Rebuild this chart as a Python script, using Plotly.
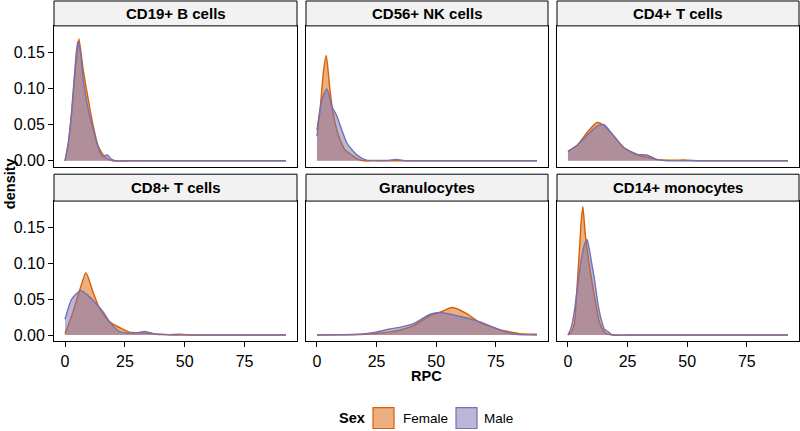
import plotly.graph_objects as go

W, H = 800, 431

panels = ["CD19+ B cells", "CD56+ NK cells", "CD4+ T cells",
          "CD8+ T cells", "Granulocytes", "CD14+ monocytes"]
sexes = ["Female", "Male"]

# ---- density values (x = RPC, y = density) ----
b_f_x = [0, 1.4, 2.8, 4.2, 5.8, 7.6, 9.7, 11.8, 13.9, 16.7, 20, 25, 35, 50, 65, 80, 92.3]
b_f_y = [0, 0.025, 0.067, 0.122, 0.169, 0.126, 0.085, 0.048, 0.02, 0.005, 0.0, 0, 0, 0, 0, 0, 0]
b_m_x = [0, 1.4, 2.8, 4.2, 5.3, 6.5, 7.6, 9.7, 11.8, 13.9, 15.5, 17.6, 19.5, 21, 30, 45, 60, 75, 92.3]
b_m_y = [0, 0.025, 0.07, 0.13, 0.165, 0.15, 0.112, 0.071, 0.043, 0.018, 0.006, 0.008, 0.002, 0, 0, 0, 0, 0, 0]

nk_f_x = [0, 1.4, 2.8, 3.9, 5.3, 6.7, 8.3, 9.7, 11.8, 14.6, 16.7, 19.4, 25, 35, 50, 65, 80, 92.3]
nk_f_y = [0.043, 0.075, 0.126, 0.146, 0.103, 0.067, 0.043, 0.029, 0.015, 0.008, 0.003, 0, 0, 0, 0, 0, 0, 0]
nk_m_x = [0, 2.1, 4.2, 6.3, 8.3, 10.4, 12.5, 15.3, 18, 20.8, 25, 30, 33, 36, 40, 50, 65, 80, 92.3]
nk_m_y = [0.034, 0.085, 0.0995, 0.075, 0.0625, 0.043, 0.025, 0.013, 0.005, 0.001, 0.0005, 0.0005, 0.002, 0.0005, 0, 0, 0, 0, 0]

cd4_f_x = [0, 4, 8.2, 12.2, 15.1, 19.3, 23.5, 29, 33, 37, 42, 50, 55, 65, 80, 92.3]
cd4_f_y = [0.013, 0.022, 0.040, 0.053, 0.049, 0.034, 0.018, 0.008, 0.005, 0.002, 0.001, 0.001, 0, 0, 0, 0]
cd4_m_x = [0, 4, 8.2, 12.2, 15.1, 19.3, 23.5, 29, 33, 37.2, 42, 50, 65, 80, 92.3]
cd4_m_y = [0.013, 0.022, 0.036, 0.048, 0.050, 0.034, 0.018, 0.009, 0.008, 0.002, 0, 0, 0, 0, 0]

cd8_f_x = [0, 2.8, 6.25, 8.75, 11.8, 14.6, 18.75, 24.3, 27, 33, 40, 45, 55, 70, 85, 92.3]
cd8_f_y = [0.002, 0.027, 0.064, 0.087, 0.059, 0.036, 0.018, 0.008, 0.004, 0.003, 0.001, 0, 0, 0, 0, 0]
cd8_m_x = [0, 2.8, 6.5, 9.7, 13.2, 16, 18.75, 22.2, 25.7, 30, 33.3, 38.2, 43, 48, 53, 65, 80, 92.3]
cd8_m_y = [0.022, 0.050, 0.062, 0.055, 0.043, 0.032, 0.018, 0.006, 0.003, 0.003, 0.005, 0.001, 0.0005, 0.001, 0, 0, 0, 0]

gr_f_x = [0, 10, 18, 24.6, 30, 35, 40.5, 47.5, 51.7, 56.8, 62.8, 68.3, 75.3, 80, 85, 92.3]
gr_f_y = [0, 0.0002, 0.0008, 0.002, 0.004, 0.007, 0.013, 0.027, 0.032, 0.0385, 0.030, 0.0175, 0.009, 0.005, 0.002, 0.001]
gr_m_x = [0, 10, 18, 24.6, 30, 35, 40.5, 47.5, 51.7, 58.6, 67, 75.3, 79.4, 83.6, 88, 92.3]
gr_m_y = [0, 0.0003, 0.001, 0.004, 0.008, 0.011, 0.016, 0.029, 0.0315, 0.027, 0.020, 0.009, 0.004, 0.001, 0.0002, 0]

mo_f_x = [0, 1.4, 2.8, 3.5, 4.2, 4.9, 5.6, 6.25, 7.2, 8.2, 9.7, 11.8, 13.2, 15.3, 17, 20, 30, 45, 60, 75, 92.3]
mo_f_y = [0, 0.004, 0.018, 0.05, 0.087, 0.124, 0.161, 0.179, 0.143, 0.115, 0.082, 0.041, 0.018, 0.004, 0.001, 0, 0, 0, 0, 0, 0]
mo_m_x = [0, 1.4, 2.8, 4.2, 5.6, 6.9, 8, 9, 9.7, 11.1, 12.5, 13.9, 15.3, 16.7, 18.75, 25, 40, 55, 70, 92.3]
mo_m_y = [0, 0.011, 0.036, 0.073, 0.106, 0.126, 0.133, 0.119, 0.105, 0.078, 0.045, 0.022, 0.008, 0.005, 0, 0, 0, 0, 0, 0]

female_x = [b_f_x, nk_f_x, cd4_f_x, cd8_f_x, gr_f_x, mo_f_x]
female_y = [b_f_y, nk_f_y, cd4_f_y, cd8_f_y, gr_f_y, mo_f_y]
male_x = [b_m_x, nk_m_x, cd4_m_x, cd8_m_x, gr_m_x, mo_m_x]
male_y = [b_m_y, nk_m_y, cd4_m_y, cd8_m_y, gr_m_y, mo_m_y]

x_ticks = [0, 25, 50, 75]
y_ticks = [0, 0.05, 0.10, 0.15]

line_col = {"Female": "#D95F02", "Male": "#7570B3"}
fill_col = {"Female": "rgba(217,95,2,0.5)", "Male": "rgba(117,112,179,0.5)"}

FONT = "Liberation Sans, Arial, Helvetica, sans-serif"

# pixel geometry
col_px = [(54, 297), (306, 548), (557, 799)]
row_px = [(26, 168), (202, 343)]
strip_px = [(1, 26), (175, 202)]

def px_x(p):
    return p / W

def px_y(p):
    return 1 - p / H

fig = go.Figure()
layout = dict(
    width=W, height=H,
    margin=dict(l=0, r=0, t=0, b=0),
    paper_bgcolor="white", plot_bgcolor="white",
    showlegend=False,
    font=dict(family=FONT, size=15, color="black"),
)
shapes = []
annotations = []

for i, name in enumerate(panels):
    r, c = divmod(i, 3)
    k = i + 1
    xa = f"xaxis{k if k > 1 else ''}"
    ya = f"yaxis{k if k > 1 else ''}"
    xref = f"x{k if k > 1 else ''}"
    yref = f"y{k if k > 1 else ''}"
    for sex, xs, ys in (("Female", female_x[i], female_y[i]), ("Male", male_x[i], male_y[i])):
        fig.add_trace(go.Scatter(
            x=xs, y=ys, xaxis=xref, yaxis=yref, mode="lines",
            line=dict(color=line_col[sex], width=1.4, shape="spline", smoothing=0.6),
            fill="tozeroy", fillcolor=fill_col[sex], name=sex, legendgroup=sex,
            showlegend=False,
        ))
    bottom = r == 1
    left = c == 0
    layout[xa] = dict(
        domain=[px_x(col_px[c][0]), px_x(col_px[c][1])],
        anchor=yref, range=[-4.6, 96.9],
        showgrid=False, zeroline=False,
        showline=True, mirror=True, linecolor="black", linewidth=1,
        tickvals=x_ticks, ticks="outside" if bottom else "", ticklen=5,
        tickcolor="black", showticklabels=bottom,
        tickfont=dict(family=FONT, size=16, color="black"),
    )
    layout[ya] = dict(
        domain=[px_y(row_px[r][1]), px_y(row_px[r][0])],
        anchor=xref, range=[-0.0089, 0.187],
        showgrid=False, zeroline=False,
        showline=True, mirror=True, linecolor="black", linewidth=1,
        tickvals=y_ticks, tickformat=".2f",
        ticks="outside" if left else "", ticklen=5, tickcolor="black",
        showticklabels=left,
        tickfont=dict(family=FONT, size=16, color="black"),
    )
    # strip
    shapes.append(dict(type="rect", xref="paper", yref="paper",
                       x0=px_x(col_px[c][0]), x1=px_x(col_px[c][1]),
                       y0=px_y(strip_px[r][1]), y1=px_y(strip_px[r][0]),
                       fillcolor="#F2F2F2", line=dict(color="black", width=1)))
    annotations.append(dict(text=f"<b>{name}</b>", xref="paper", yref="paper",
                            x=px_x((col_px[c][0] + col_px[c][1]) / 2),
                            y=px_y((strip_px[r][0] + strip_px[r][1]) / 2),
                            showarrow=False, xanchor="center", yanchor="middle",
                            font=dict(family=FONT, size=15, color="black")))

# axis titles
annotations.append(dict(text="<b>density</b>", xref="paper", yref="paper",
                        x=px_x(10), y=px_y(185), textangle=-90, showarrow=False,
                        xanchor="center", yanchor="middle",
                        font=dict(family=FONT, size=14.5, color="black")))
annotations.append(dict(text="<b>RPC</b>", xref="paper", yref="paper",
                        x=px_x(427), y=px_y(378), showarrow=False,
                        xanchor="center", yanchor="middle",
                        font=dict(family=FONT, size=14.5, color="black")))

# legend (drawn manually to match ggplot layout)
leg_y = 420
annotations.append(dict(text="<b>Sex</b>", xref="paper", yref="paper",
                        x=px_x(339), y=px_y(leg_y), showarrow=False,
                        xanchor="left", yanchor="middle", xshift=-2,
                        font=dict(family=FONT, size=14.5, color="black")))
for sex, bx, tx in (("Female", 373, 403), ("Male", 456, 484)):
    shapes.append(dict(type="rect", xref="paper", yref="paper",
                       x0=px_x(bx), x1=px_x(bx + 21),
                       y0=px_y(leg_y + 10.5), y1=px_y(leg_y - 10.5),
                       fillcolor=fill_col[sex], line=dict(color=line_col[sex], width=1.2)))
    annotations.append(dict(text=sex, xref="paper", yref="paper",
                            x=px_x(tx), y=px_y(leg_y), showarrow=False,
                            xanchor="left", yanchor="middle", xshift=-2,
                            font=dict(family=FONT, size=13.5, color="black")))

layout["shapes"] = shapes
layout["annotations"] = annotations
fig.update_layout(**layout)
fig.write_html("out.html", config={"displayModeBar": False})

# remove the default page margin so the figure sits at the window's top-left
with open("out.html", "r", encoding="utf-8") as fh:
    html = fh.read()
html = html.replace("<head>", "<head><style>html,body{margin:0;padding:0;overflow:hidden;}</style>", 1)
with open("out.html", "w", encoding="utf-8") as fh:
    fh.write(html)
